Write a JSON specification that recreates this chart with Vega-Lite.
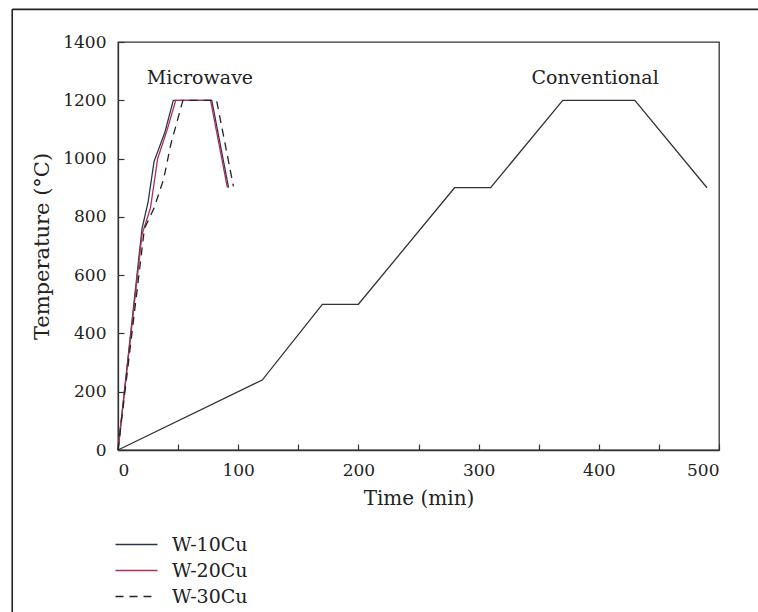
{
  "$schema": "https://vega.github.io/schema/vega-lite/v6.json",
  "width": 601,
  "height": 408,
  "autosize": {"type": "none"},
  "padding": {"left": 118, "top": 42, "right": 39, "bottom": 162},
  "background": "white",
  "config": {
    "view": {"stroke": "#333", "strokeWidth": 1.3},
    "font": "DejaVu Serif",
    "axis": {
      "grid": false,
      "domainColor": "#333",
      "domainWidth": 1.3,
      "tickColor": "#333",
      "tickWidth": 1.2,
      "tickSize": -6,
      "labelFont": "DejaVu Serif",
      "labelFontSize": 17,
      "labelColor": "#222",
      "titleFont": "DejaVu Serif",
      "titleFontSize": 20,
      "titleFontWeight": "normal",
      "titleColor": "#222"
    }
  },
  "datasets": {
    "microwave": [
      {"alloy": "W-10Cu", "time": 0, "temp": 0},
      {"alloy": "W-10Cu", "time": 20, "temp": 760},
      {"alloy": "W-10Cu", "time": 25, "temp": 850},
      {"alloy": "W-10Cu", "time": 30, "temp": 990},
      {"alloy": "W-10Cu", "time": 39, "temp": 1090},
      {"alloy": "W-10Cu", "time": 46, "temp": 1200},
      {"alloy": "W-10Cu", "time": 78, "temp": 1200},
      {"alloy": "W-10Cu", "time": 92, "temp": 900},
      {"alloy": "W-20Cu", "time": 0, "temp": 0},
      {"alloy": "W-20Cu", "time": 20, "temp": 740},
      {"alloy": "W-20Cu", "time": 27, "temp": 830},
      {"alloy": "W-20Cu", "time": 33, "temp": 1000},
      {"alloy": "W-20Cu", "time": 41, "temp": 1100},
      {"alloy": "W-20Cu", "time": 48, "temp": 1200},
      {"alloy": "W-20Cu", "time": 77, "temp": 1200},
      {"alloy": "W-20Cu", "time": 91, "temp": 900},
      {"alloy": "W-30Cu", "time": 0, "temp": 0},
      {"alloy": "W-30Cu", "time": 22, "temp": 760},
      {"alloy": "W-30Cu", "time": 30, "temp": 830},
      {"alloy": "W-30Cu", "time": 38, "temp": 930},
      {"alloy": "W-30Cu", "time": 44, "temp": 1050},
      {"alloy": "W-30Cu", "time": 54, "temp": 1200},
      {"alloy": "W-30Cu", "time": 82, "temp": 1200},
      {"alloy": "W-30Cu", "time": 96, "temp": 905}
    ],
    "conventional": [
      {"time": 0, "temp": 0},
      {"time": 120, "temp": 240},
      {"time": 170, "temp": 500},
      {"time": 200, "temp": 500},
      {"time": 280, "temp": 900},
      {"time": 310, "temp": 900},
      {"time": 370, "temp": 1200},
      {"time": 430, "temp": 1200},
      {"time": 490, "temp": 900}
    ],
    "labels": [
      {"name": "Microwave", "time": 24, "temp": 1278},
      {"name": "Conventional", "time": 344, "temp": 1278}
    ]
  },
  "layer": [
    {
      "data": {"name": "conventional"},
      "mark": {"type": "line", "color": "#333", "strokeWidth": 1.3},
      "encoding": {
        "x": {
          "field": "time", "type": "quantitative",
          "scale": {"domain": [0, 500], "nice": false},
          "axis": {
            "title": "Time (min)",
            "values": [0, 50, 100, 150, 200, 250, 300, 350, 400, 450, 500],
            "labelExpr": "datum.value % 100 == 0 ? datum.label : ''",
            "labelPadding": 18,
            "titlePadding": 10
          }
        },
        "y": {
          "field": "temp", "type": "quantitative",
          "scale": {"domain": [0, 1400], "nice": false},
          "axis": {
            "title": "Temperature (°C)",
            "titleFontSize": 21,
            "values": [0, 100, 200, 300, 400, 500, 600, 700, 800, 900, 1000, 1100, 1200, 1300, 1400],
            "labelExpr": "datum.value % 200 == 0 ? datum.label : ''",
            "format": "d",
            "labelPadding": 18,
            "titlePadding": 10
          }
        }
      }
    },
    {
      "data": {"name": "microwave"},
      "mark": {"type": "line", "strokeWidth": 1.3},
      "encoding": {
        "x": {"field": "time", "type": "quantitative"},
        "y": {"field": "temp", "type": "quantitative"},
        "color": {
          "field": "alloy", "type": "nominal",
          "scale": {"domain": ["W-10Cu", "W-20Cu", "W-30Cu"], "range": ["#2a3550", "#b0304f", "#222222"]},
          "legend": {
            "title": null,
            "orient": "none",
            "legendX": 9,
            "legendY": 493,
            "padding": 0,
            "symbolType": "M-3,0H3",
            "symbolSize": 196,
            "symbolStrokeWidth": 1.3,
            "labelFont": "DejaVu Serif",
            "labelFontSize": 19,
            "labelColor": "#222",
            "labelOffset": 26,
            "rowPadding": 6
          }
        },
        "strokeDash": {
          "field": "alloy", "type": "nominal",
          "scale": {"domain": ["W-10Cu", "W-20Cu", "W-30Cu"], "range": [[1, 0], [1, 0], [8, 6]]},
          "legend": {
            "title": null,
            "orient": "none",
            "legendX": 9,
            "legendY": 493,
            "padding": 0,
            "symbolType": "M-3,0H3",
            "symbolSize": 196,
            "symbolStrokeWidth": 1.3,
            "labelFont": "DejaVu Serif",
            "labelFontSize": 19,
            "labelColor": "#222",
            "labelOffset": 26,
            "rowPadding": 6
          }
        }
      }
    },
    {
      "data": {"name": "labels"},
      "mark": {"type": "text", "font": "DejaVu Serif", "fontSize": 19, "color": "#222", "align": "left", "baseline": "middle"},
      "encoding": {
        "x": {"field": "time", "type": "quantitative"},
        "y": {"field": "temp", "type": "quantitative"},
        "text": {"field": "name"}
      }
    },
    {
      "data": {"values": [{}]},
      "mark": {"type": "rule", "color": "#222", "strokeWidth": 1.6, "clip": false},
      "encoding": {
        "x": {"datum": -88, "type": "quantitative"},
        "y": {"datum": 1512, "type": "quantitative"},
        "y2": {"datum": -700}
      }
    },
    {
      "data": {"values": [{}]},
      "mark": {"type": "rule", "color": "#222", "strokeWidth": 1.6, "clip": false},
      "encoding": {
        "x": {"datum": -88, "type": "quantitative"},
        "x2": {"datum": 700},
        "y": {"datum": 1512, "type": "quantitative"}
      }
    }
  ]
}
